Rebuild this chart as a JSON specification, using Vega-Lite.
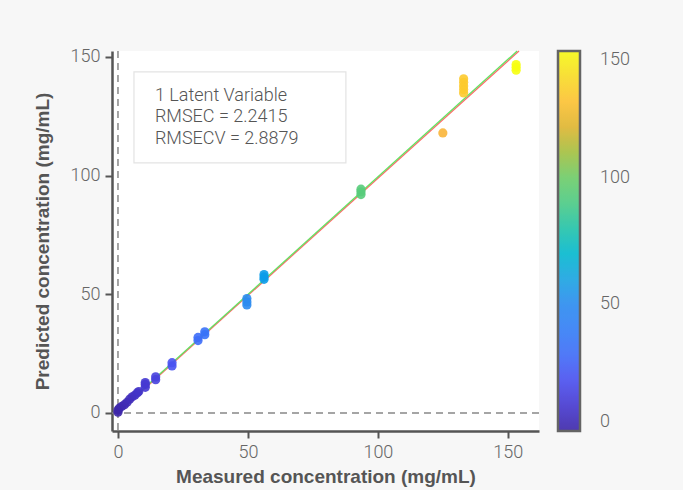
{
  "$schema": "https://vega.github.io/schema/vega-lite/v6.json",
  "width": 427,
  "height": 380,
  "autosize": {"type": "none"},
  "padding": {"left": 112, "top": 51, "right": 144, "bottom": 59},
  "background": "#f7f7f7",
  "config": {
    "view": {"fill": "#ffffff", "stroke": null},
    "axis": {
      "domainColor": "#555555", "domainWidth": 2.5,
      "tickColor": "#555555", "tickWidth": 2, "tickSize": 7, "labelPadding": 5,
      "labelFont": "Roboto", "labelFontWeight": 300, "labelFontSize": 18, "labelColor": "#666666",
      "titleFont": "Liberation Sans", "titleFontWeight": "bold", "titleFontSize": 19, "titleColor": "#555555",
      "grid": false
    }
  },
  "datasets": {
    "pts": [
      {"measured": 0, "predicted": 0.3}, {"measured": 0, "predicted": 1.2}, {"measured": 0.5, "predicted": 2.0},
      {"measured": 1.5, "predicted": 2.8}, {"measured": 2.5, "predicted": 3.5}, {"measured": 3.5, "predicted": 4.5},
      {"measured": 4.5, "predicted": 5.8}, {"measured": 5.5, "predicted": 6.8}, {"measured": 6.5, "predicted": 7.5},
      {"measured": 7.5, "predicted": 8.5}, {"measured": 8, "predicted": 9.0},
      {"measured": 10.5, "predicted": 10.8}, {"measured": 10.5, "predicted": 12.0}, {"measured": 10.5, "predicted": 12.8},
      {"measured": 14.5, "predicted": 14.0}, {"measured": 14.5, "predicted": 15.2},
      {"measured": 20.8, "predicted": 19.8}, {"measured": 20.8, "predicted": 21.2},
      {"measured": 30.8, "predicted": 30.5}, {"measured": 30.8, "predicted": 31.8},
      {"measured": 33.4, "predicted": 33.0}, {"measured": 33.4, "predicted": 34.2},
      {"measured": 49.6, "predicted": 45.5}, {"measured": 49.6, "predicted": 46.8}, {"measured": 49.6, "predicted": 48.2},
      {"measured": 56.2, "predicted": 56.3}, {"measured": 56.2, "predicted": 57.3}, {"measured": 56.2, "predicted": 58.3},
      {"measured": 93.5, "predicted": 92.0}, {"measured": 93.5, "predicted": 93.2}, {"measured": 93.5, "predicted": 94.3},
      {"measured": 125, "predicted": 118},
      {"measured": 133, "predicted": 134.8}, {"measured": 133, "predicted": 136.3}, {"measured": 133, "predicted": 137.8},
      {"measured": 133, "predicted": 139.3}, {"measured": 133, "predicted": 140.8},
      {"measured": 153.2, "predicted": 144.4}, {"measured": 153.2, "predicted": 145.7}, {"measured": 153.2, "predicted": 146.8}
    ],
    "red": [{"x": 0, "y": 0.1}, {"x": 154.3, "y": 152.5}],
    "green": [{"x": 0, "y": 0.5}, {"x": 153.6, "y": 152.5}],
    "box": [{"x": 6.15, "x2": 87.7, "y": 143.7, "y2": 105.4}],
    "txt": [
      {"x": 14.2, "y": 133.6, "label": "1 Latent Variable"},
      {"x": 14.2, "y": 124.7, "label": "RMSEC = 2.2415"},
      {"x": 14.2, "y": 115.5, "label": "RMSECV = 2.8879"}
    ]
  },
  "layer": [
    {
      "data": {"name": "box"},
      "mark": {"type": "rect", "fill": "#ffffff", "stroke": "#e3e3e3", "strokeWidth": 1.2},
      "encoding": {
        "x": {"field": "x", "type": "quantitative", "scale": {"domain": [-2.3, 162], "nice": false, "zero": false},
              "axis": {"values": [0, 50, 100, 150], "title": "Measured concentration (mg/mL)", "titlePadding": 6}},
        "x2": {"field": "x2"},
        "y": {"field": "y", "type": "quantitative", "scale": {"domain": [-7.6, 152.5], "nice": false, "zero": false},
              "axis": {"values": [0, 50, 100, 150], "title": "Predicted concentration (mg/mL)", "titlePadding": 18}},
        "y2": {"field": "y2"}
      }
    },
    {
      "data": {"name": "txt"},
      "mark": {"type": "text", "align": "left", "baseline": "middle", "font": "Roboto", "fontWeight": 300, "fontSize": 18, "color": "#555555"},
      "encoding": {
        "x": {"field": "x", "type": "quantitative"},
        "y": {"field": "y", "type": "quantitative"},
        "text": {"field": "label"}
      }
    },
    {
      "data": {"values": [{"v": 0}]},
      "mark": {"type": "rule", "color": "#888888", "strokeWidth": 1.5, "strokeDash": [7, 5]},
      "encoding": {"x": {"field": "v", "type": "quantitative"}}
    },
    {
      "data": {"values": [{"v": 0}]},
      "mark": {"type": "rule", "color": "#888888", "strokeWidth": 1.5, "strokeDash": [7, 5]},
      "encoding": {"y": {"field": "v", "type": "quantitative"}}
    },
    {
      "data": {"name": "red"},
      "mark": {"type": "line", "color": "#ff6a6a", "strokeWidth": 1.3},
      "encoding": {"x": {"field": "x", "type": "quantitative"}, "y": {"field": "y", "type": "quantitative"}}
    },
    {
      "data": {"name": "green"},
      "mark": {"type": "line", "color": "#62e262", "strokeWidth": 1.3},
      "encoding": {"x": {"field": "x", "type": "quantitative"}, "y": {"field": "y", "type": "quantitative"}}
    },
    {
      "data": {"name": "pts"},
      "mark": {"type": "circle", "size": 85, "opacity": 0.9},
      "encoding": {
        "x": {"field": "measured", "type": "quantitative"},
        "y": {"field": "predicted", "type": "quantitative"},
        "color": {
          "field": "measured", "type": "quantitative",
          "scale": {
            "domain": [0, 10, 20, 30, 40, 50, 60, 70, 80, 90, 100, 110, 118, 125, 132, 140, 150],
            "range": ["#3d26a8", "#4538d0", "#4a50f0", "#3f6cf8", "#337ef6", "#2b8cf0", "#1aa4e2", "#04b9cf", "#22c3a9", "#4ccb85", "#6ecc68", "#a4c040", "#d4b52c", "#fab53a", "#fdc82f", "#f9dc24", "#f8fa14"]
          },
          "legend": {
            "title": null, "direction": "vertical", "orient": "right", "offset": 19,
            "gradientLength": 380, "gradientThickness": 22,
            "gradientStrokeColor": "#555555", "gradientStrokeWidth": 2.5,
            "values": [0, 50, 100, 150], "labelOverlap": false,
            "labelFont": "Roboto", "labelFontWeight": 300, "labelFontSize": 18, "labelColor": "#666666", "labelOffset": 20
          }
        }
      }
    }
  ]
}
